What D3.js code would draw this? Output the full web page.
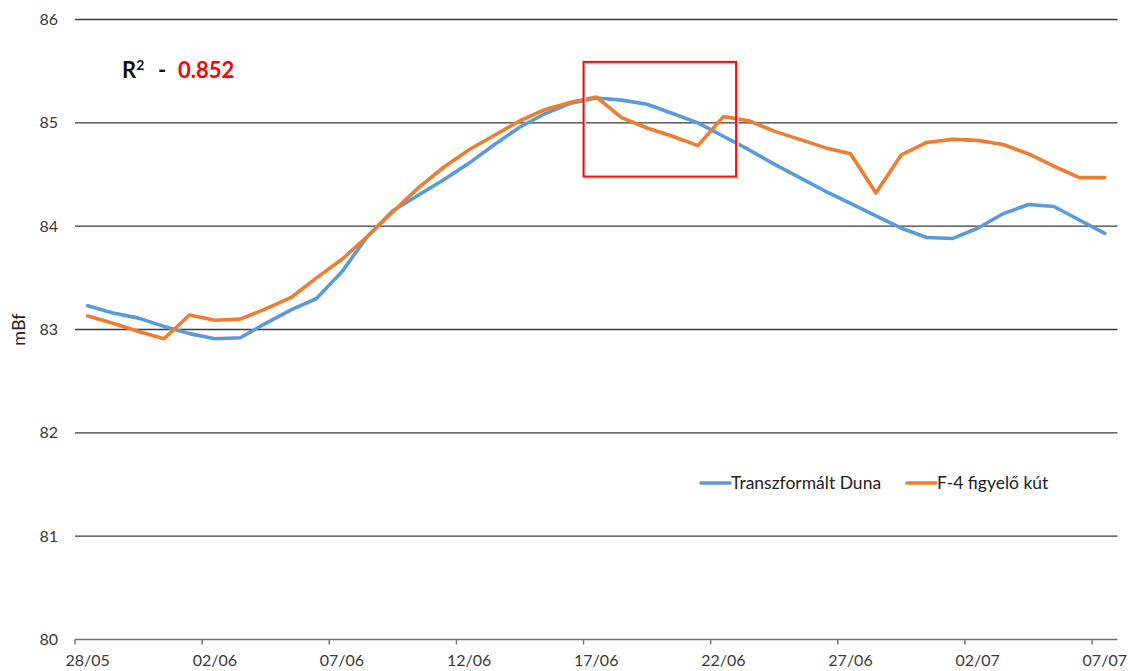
<!DOCTYPE html>
<html>
<head>
<meta charset="utf-8">
<script src="https://cdn.jsdelivr.net/npm/d3@7"></script>
<style>
  html, body { margin: 0; padding: 0; background: #fff; }
  svg { display: block; }
  text { font-family: Lato, "Open Sans", sans-serif; }
</style>
</head>
<body>
<svg id="chart" width="1130" height="671"></svg>
<script>
// Daily water levels (mBf), 28/05 – 07/07
const startDay = new Date(2013, 4, 28);
const endDay = new Date(2013, 6, 8);
const days = d3.timeDay.range(startDay, endDay);
const fmt = d3.timeFormat("%d/%m");
const categories = days.map(fmt);

const seriesNames = ["Transzformált Duna", "F-4 figyelő kút"];
const seriesColors = ["#5B9BD5", "#ED7D31"];

const dunaValues = [
  83.23, 83.16, 83.11, 83.03, 82.96, 82.91, 82.92, 83.06, 83.19, 83.30,
  83.56, 83.90, 84.15, 84.30, 84.45, 84.61, 84.79, 84.96, 85.09, 85.19,
  85.24, 85.22, 85.18, 85.09, 85.00, 84.87, 84.74, 84.60, 84.47, 84.34,
  84.22, 84.10, 83.98, 83.89, 83.88, 83.98, 84.12, 84.21, 84.19, 84.06,
  83.93
];
const wellValues = [
  83.13, 83.06, 82.98, 82.91, 83.14, 83.09, 83.10, 83.20, 83.31, 83.50,
  83.68, 83.90, 84.14, 84.37, 84.57, 84.74, 84.88, 85.02, 85.13, 85.20,
  85.25, 85.05, 84.95, 84.87, 84.78, 85.06, 85.02, 84.92, 84.84, 84.76,
  84.70, 84.32, 84.69, 84.81, 84.84, 84.83, 84.79, 84.70, 84.58, 84.47,
  84.47
];

const yTicks = [80, 81, 82, 83, 84, 85, 86];
const xTickLabels = ["28/05", "02/06", "07/06", "12/06", "17/06", "22/06", "27/06", "02/07", "07/07"];

const yLabel = "mBf";
const r2Label = "R";
const r2Value = "0.852";

// highlighted window: from 17/06 to the end of 22/06, in mBf
const boxDays = ["17/06", "23/06"];
const boxLevels = [85.59, 84.48];

const svg = d3.select("#chart");
const plot = { left: 75, right: 1117.5, top: 19.5, bottom: 639.5 };

const x = d3.scaleBand().domain(categories).range([plot.left, plot.right]).padding(0);
const y = d3.scaleLinear().domain([80, 86]).range([plot.bottom, plot.top]);
const cx = d => x(d) + x.bandwidth() / 2;

svg.append("rect").attr("width", 1130).attr("height", 671).attr("fill", "#fff");

// horizontal gridlines
svg.append("g")
  .selectAll("line")
  .data(yTicks.filter(v => v > 80))
  .join("line")
  .attr("x1", plot.left).attr("x2", plot.right)
  .attr("y1", d => y(d)).attr("y2", d => y(d))
  .attr("stroke", "#3a3a3a").attr("stroke-width", 1.4);

// y tick labels
const yAxis = d3.axisLeft(y).tickValues(yTicks).tickSize(0).tickPadding(17).tickFormat(d3.format("d"));
const gy = svg.append("g").attr("transform", `translate(${plot.left},0)`).call(yAxis);
gy.select(".domain").remove();
gy.selectAll("text").attr("font-size", 16).attr("fill", "#3a3a3a")
  .attr("font-family", "Lato, 'Open Sans', sans-serif");

// x axis: ticks on band edges, labels centred on the day
const gx = svg.append("g");
gx.append("line")
  .attr("x1", plot.left).attr("x2", plot.right)
  .attr("y1", y(80)).attr("y2", y(80))
  .attr("stroke", "#6f6f6f").attr("stroke-width", 1.4);
gx.selectAll("line.tick")
  .data(xTickLabels)
  .join("line")
  .attr("class", "tick")
  .attr("x1", d => x(d)).attr("x2", d => x(d))
  .attr("y1", y(80)).attr("y2", y(80) + 5)
  .attr("stroke", "#6f6f6f").attr("stroke-width", 1.4);
gx.selectAll("text")
  .data(xTickLabels)
  .join("text")
  .attr("x", d => Math.min(cx(d), 1107))
  .attr("y", 666)
  .attr("text-anchor", "middle")
  .attr("font-size", 16)
  .attr("fill", "#3a3a3a")
  .text(d => d);

// y axis title
svg.append("text")
  .attr("transform", `translate(25,${y(83)}) rotate(-90)`)
  .attr("text-anchor", "middle")
  .attr("font-size", 18)
  .attr("fill", "#222")
  .text(yLabel);

// series lines
const line = d3.line().x((d, i) => cx(categories[i])).y(d => y(d));
[dunaValues, wellValues].forEach((vals, k) => {
  svg.append("path")
    .datum(vals)
    .attr("fill", "none")
    .attr("stroke", seriesColors[k])
    .attr("stroke-width", 3.6)
    .attr("stroke-linejoin", "round")
    .attr("stroke-linecap", "round")
    .attr("d", line);
});

// highlight box
const bx0 = x(boxDays[0]), bx1 = x(boxDays[1]);
const by0 = y(boxLevels[0]), by1 = y(boxLevels[1]);
svg.append("rect")
  .attr("x", bx0 + 1.5).attr("y", by0 + 1.5)
  .attr("width", bx1 - bx0).attr("height", by1 - by0)
  .attr("fill", "none").attr("stroke", "#d8d8d8").attr("stroke-width", 2);
svg.append("rect")
  .attr("x", bx0).attr("y", by0)
  .attr("width", bx1 - bx0).attr("height", by1 - by0)
  .attr("fill", "none").attr("stroke", "#ee1111").attr("stroke-width", 2);

// R² annotation
const r2 = svg.append("text").attr("x", 122).attr("y", 78)
  .attr("font-size", 22).attr("font-weight", "bold");
r2.append("tspan").attr("fill", "#111").text(r2Label);
r2.append("tspan").attr("fill", "#111").attr("font-size", 14).attr("dy", -8).text("2");
r2.append("tspan").attr("fill", "#111").attr("x", 158).attr("dy", 8).text("-");
r2.append("tspan").attr("fill", "#ff0000").attr("x", 178).text(r2Value);

// legend
const legendX = [701, 907];
seriesNames.forEach((name, k) => {
  const g = svg.append("g").attr("transform", `translate(${legendX[k]},483)`);
  g.append("line").attr("x1", 0).attr("x2", 29).attr("y1", 0).attr("y2", 0)
    .attr("stroke", seriesColors[k]).attr("stroke-width", 3.6).attr("stroke-linecap", "round");
  g.append("text").attr("x", 30).attr("y", 0).attr("dy", "0.35em")
    .attr("font-size", 17.5).attr("fill", "#222").text(name);
});
</script>
</body>
</html>
